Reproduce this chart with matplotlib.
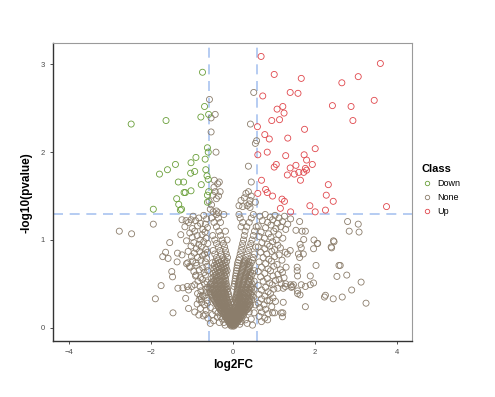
import matplotlib
matplotlib.use("Agg")
import matplotlib.pyplot as plt
from matplotlib.lines import Line2D
import numpy as np

plt.rcParams["font.family"] = ["Liberation Sans", "DejaVu Sans"]

# thresholds
FC_CUT = 0.585   # log2(1.5)
P_CUT = 1.301    # -log10(0.05)

# ── Up regulated (log2FC, -log10 p) ──
up_pts = [
    (0.69, 3.09), (3.60, 3.01), (1.01, 2.885), (1.67, 2.84), (3.06, 2.86),
    (2.66, 2.79), (0.73, 2.64), (1.40, 2.68), (1.59, 2.67), (3.45, 2.59),
    (2.43, 2.53), (2.885, 2.52), (1.08, 2.49), (1.22, 2.52), (1.25, 2.445),
    (0.95, 2.36), (1.14, 2.37), (2.93, 2.36), (0.60, 2.29), (1.75, 2.26),
    (0.78, 2.20), (0.89, 2.15), (1.34, 2.16), (2.01, 2.04), (0.61, 1.97),
    (0.84, 2.00), (1.29, 1.96), (1.74, 1.97), (1.80, 1.91), (1.94, 1.86),
    (1.01, 1.83), (1.06, 1.86), (1.40, 1.82), (1.54, 1.85), (1.77, 1.815),
    (1.80, 1.795), (1.73, 1.77), (1.61, 1.77), (1.50, 1.75), (1.33, 1.74),
    (1.65, 1.68), (0.70, 1.68), (2.33, 1.63), (0.80, 1.575), (0.84, 1.54),
    (0.97, 1.50), (0.61, 1.53), (2.28, 1.51), (1.20, 1.465), (1.26, 1.44),
    (2.45, 1.44), (1.88, 1.39), (1.16, 1.36), (3.75, 1.38), (1.41, 1.32),
    (2.01, 1.32), (2.26, 1.34),
]

# ── Down regulated ──
down_pts = [
    (-0.74, 2.91), (-2.48, 2.32), (-1.63, 2.36), (-0.69, 2.52), (-0.78, 2.40),
    (-0.59, 2.43), (-0.62, 2.05), (-0.60, 2.00), (-0.90, 1.94), (-1.02, 1.88),
    (-0.675, 1.92), (-1.40, 1.86), (-0.66, 1.80), (-1.595, 1.80), (-1.79, 1.75),
    (-0.93, 1.78), (-1.03, 1.76), (-1.33, 1.66), (-1.20, 1.66), (-0.77, 1.63),
    (-0.63, 1.73), (-0.60, 1.69), (-1.19, 1.54), (-1.16, 1.54), (-1.02, 1.56),
    (-0.59, 1.55), (-0.62, 1.51), (-1.37, 1.47), (-0.62, 1.43), (-1.32, 1.405),
    (-1.28, 1.34), (-1.25, 1.35), (-1.94, 1.35),
]

# ── Not significant: sparse outer points ──
none_outer = [
    (-2.77, 1.10), (-2.47, 1.07), (-1.94, 1.18), (-1.54, 0.97), (-1.64, 0.86),
    (-1.71, 0.81), (-1.58, 0.79), (-1.49, 0.64), (-1.47, 0.58), (-1.75, 0.48),
    (-1.89, 0.33), (-1.46, 0.17), (-1.35, 0.85), (-1.24, 0.83), (-1.36, 0.75),
    (-1.27, 1.06), (-1.34, 0.45), (-1.22, 0.455), (-1.11, 0.47), (-1.00, 0.47),
    (-1.08, 0.43), (-1.15, 0.335), (-0.90, 0.60), (-1.08, 0.22), (-0.93, 0.18),
    (-0.83, 0.145), (-0.72, 0.135), (-0.82, 0.32), (-0.76, 0.29), (-0.80, 0.36),
    (-0.70, 0.36), (-1.13, 0.73), (-1.10, 0.74), (-1.06, 0.70), (-1.24, 1.23),
    (-1.14, 1.22), (-1.02, 1.23),
    (2.80, 1.21), (3.06, 1.18), (2.84, 1.10), (3.08, 1.09), (2.455, 0.99),
    (2.40, 0.92), (1.98, 1.00), (2.07, 0.96), (1.97, 0.90), (1.73, 1.005),
    (1.64, 0.95), (1.67, 0.91), (1.72, 0.84), (1.60, 0.84), (1.63, 0.80),
    (2.03, 0.71), (2.62, 0.71), (2.59, 0.71), (2.54, 0.585), (2.78, 0.60),
    (3.13, 0.52), (2.90, 0.43), (3.25, 0.28), (2.67, 0.35), (2.45, 0.33),
    (2.235, 0.35), (2.26, 0.37), (1.77, 0.24), (1.89, 0.59), (1.97, 0.51),
    (1.89, 0.49), (1.77, 0.47), (1.67, 0.49), (1.58, 0.39), (1.64, 0.375),
    (1.58, 0.42), (1.57, 0.69), (1.57, 0.65), (1.58, 0.59), (1.41, 0.49),
    (1.45, 0.47), (1.29, 0.50), (1.40, 0.88), (1.33, 0.84), (1.28, 0.86),
    (1.69, 1.10), (1.77, 1.10), (1.63, 1.21), (1.54, 1.11), (0.85, 0.09),
    (1.21, 0.125), (1.22, 0.17), (1.18, 0.17), (0.97, 0.17), (1.02, 0.17),
    (1.04, 0.30), (0.90, 0.31), (1.23, 0.29), (1.43, 0.46), (1.48, 0.49),
    (1.23, 0.45), (1.28, 0.47), (2.41, 0.91), (2.47, 0.98), (2.06, 0.96),
]

# not significant but above the p cut (inside the FC lines)
none_upper = [
    (0.51, 2.68), (-0.57, 2.60), (-0.53, 2.39), (-0.43, 2.43), (-0.53, 2.23),
    (0.43, 2.32), (0.55, 2.10), (0.58, 2.13), (-0.41, 2.00), (0.38, 1.84),
    (-0.45, 1.68), (-0.37, 1.64), (-0.33, 1.66), (0.45, 1.66), (-0.31, 1.55),
    (-0.43, 1.55), (-0.40, 1.47), (-0.49, 1.51), (0.20, 1.45), (0.32, 1.53),
    (0.38, 1.55), (0.45, 1.50), (0.28, 1.48), (0.42, 1.45), (0.15, 1.39),
    (0.35, 1.39), (0.40, 1.41), (0.42, 1.37), (0.55, 1.43), (-0.55, 1.35),
    (-0.48, 1.32), (-0.40, 1.33), (-0.35, 1.31), (-0.52, 1.40), (-0.58, 1.44),
    (0.24, 1.38), (-0.35, 1.50), (-0.46, 1.60),
]

# band just left of the -FC line
none_left = [
    (-0.97, 1.27), (-0.83, 1.25), (-0.71, 1.28), (-0.64, 1.24),
    (-1.08, 1.20), (-0.91, 1.22), (-0.79, 1.19), (-0.67, 1.18),
    (-1.17, 1.15), (-0.99, 1.13), (-0.86, 1.16), (-0.73, 1.12), (-0.62, 1.14),
    (-1.05, 1.08), (-0.93, 1.10), (-0.75, 1.06), (-0.68, 1.09),
    (-0.99, 1.03), (-0.87, 1.05), (-0.80, 1.00), (-0.65, 1.02),
    (-1.13, 0.99), (-0.95, 0.97), (-0.83, 0.95), (-0.71, 0.98), (-0.61, 0.96),
    (-1.02, 0.93), (-0.89, 0.90), (-0.77, 0.92), (-0.66, 0.89),
    (-1.09, 0.87), (-0.94, 0.85), (-0.81, 0.87), (-0.69, 0.84), (-0.62, 0.86),
    (-1.01, 0.81), (-0.86, 0.80), (-0.74, 0.82), (-0.64, 0.79),
    (-0.98, 0.76), (-0.90, 0.74), (-0.78, 0.77), (-0.67, 0.75),
    (-1.04, 0.69), (-0.88, 0.71), (-0.73, 0.68), (-0.63, 0.70),
    (-0.95, 0.64), (-0.82, 0.66), (-0.70, 0.63), (-0.61, 0.65),
    (-0.91, 0.59), (-0.79, 0.57), (-0.67, 0.60),
    (-0.85, 0.53), (-0.74, 0.55), (-0.63, 0.52),
    (-0.93, 0.49), (-0.80, 0.47), (-0.69, 0.50), (-0.62, 0.46),
    (-0.78, 0.42), (-0.66, 0.44),
    (-0.86, 0.39), (-0.74, 0.37), (-0.65, 0.40),
    (-0.77, 0.33), (-0.63, 0.31),
    (-0.87, 0.27), (-0.69, 0.26), (-0.62, 0.28),
    (-0.79, 0.22), (-0.65, 0.20),
    (-0.67, 0.15), (-0.61, 0.11),
]

# band just right of the +FC line
none_right = [
    (0.66, 1.27), (0.79, 1.29), (0.91, 1.26), (1.03, 1.28), (1.13, 1.25), (1.26, 1.27), (1.41, 1.24),
    (0.72, 1.22), (0.85, 1.20), (0.97, 1.23), (1.09, 1.19), (1.21, 1.21), (1.34, 1.18),
    (0.62, 1.16), (0.80, 1.14), (0.93, 1.17), (1.05, 1.13), (1.17, 1.15), (1.29, 1.12),
    (0.69, 1.09), (0.87, 1.07), (1.00, 1.10), (1.12, 1.06),
    (0.64, 1.04), (0.77, 1.02), (0.93, 1.03), (1.06, 1.00), (1.22, 1.02),
    (0.71, 0.97), (0.84, 0.95), (0.97, 0.98), (1.10, 0.94),
    (0.62, 0.92), (0.78, 0.90), (0.90, 0.93), (1.02, 0.89), (1.16, 0.91),
    (0.68, 0.86), (0.83, 0.84), (0.95, 0.87), (1.13, 0.83),
    (0.74, 0.80), (0.88, 0.78), (1.02, 0.81), (1.20, 0.77),
    (0.64, 0.75), (0.80, 0.73), (0.94, 0.76), (1.08, 0.72),
    (0.70, 0.69), (0.86, 0.67), (1.00, 0.70), (1.16, 0.66), (1.30, 0.69),
    (0.62, 0.64), (0.78, 0.62), (0.92, 0.65), (1.10, 0.61), (1.21, 0.63),
    (0.68, 0.58), (0.84, 0.56), (0.98, 0.59), (1.13, 0.55), (1.25, 0.57),
    (0.74, 0.53), (0.90, 0.51), (1.04, 0.54), (1.18, 0.50),
    (0.62, 0.48), (0.80, 0.46), (0.96, 0.49), (1.10, 0.45),
    (0.70, 0.43), (0.86, 0.41), (1.00, 0.44),
    (0.64, 0.38), (0.78, 0.36), (0.92, 0.39),
    (0.70, 0.33), (0.84, 0.31), (0.98, 0.34),
    (0.62, 0.28), (0.76, 0.26),
    (0.66, 0.23), (0.80, 0.21), (0.95, 0.24),
    (0.70, 0.18), (0.86, 0.16),
    (0.64, 0.13), (0.78, 0.11),
    (0.70, 0.07),
]

# low p-significance points scattered around the V foot
none_low = [
    (-0.22, 0.06), (-0.19, 0.03), (0.17, 0.04), (0.20, 0.07), (-0.26, 0.10),
    (0.22, 0.11), (-0.30, 0.13), (0.26, 0.14), (-0.55, 0.05), (-0.47, 0.08),
    (-0.38, 0.12), (-0.50, 0.15), (-0.33, 0.06), (-0.42, 0.19), (-0.55, 0.23),
    (-0.36, 0.17), (0.35, 0.05), (0.45, 0.10), (0.31, 0.09), (0.52, 0.17),
    (0.40, 0.18), (0.55, 0.26), (0.48, 0.03), (0.36, 0.21),
]

# dense V core, read row by row: (-log10 p, [log2FC ...])
none_core_rows = [
    (0.02, [-0.04, 0.0, 0.03]),
    (0.035, [-0.06, -0.02, 0.02, 0.06]),
    (0.05, [-0.08, -0.04, 0.0, 0.04, 0.08]),
    (0.065, [-0.10, -0.06, -0.02, 0.02, 0.06, 0.11]),
    (0.08, [-0.12, -0.08, -0.04, 0.0, 0.05, 0.09, 0.13]),
    (0.095, [-0.14, -0.10, -0.05, -0.01, 0.04, 0.08, 0.12, 0.15]),
    (0.11, [-0.16, -0.11, -0.06, -0.02, 0.03, 0.07, 0.12, 0.16]),
    (0.125, [-0.18, -0.13, -0.08, -0.03, 0.02, 0.07, 0.13, 0.18]),
    (0.14, [-0.20, -0.15, -0.10, -0.05, 0.0, 0.05, 0.10, 0.15, 0.20]),
    (0.155, [-0.23, -0.17, -0.12, -0.07, -0.02, 0.03, 0.08, 0.13, 0.18, 0.24]),
    (0.17, [-0.25, -0.19, -0.13, -0.07, -0.02, 0.04, 0.10, 0.16, 0.22, 0.27]),
    (0.185, [-0.27, -0.21, -0.15, -0.09, -0.03, 0.05, 0.11, 0.17, 0.23, 0.29]),
    (0.20, [-0.30, -0.24, -0.17, -0.11, -0.05, 0.02, 0.08, 0.14, 0.20, 0.26, 0.32]),
    (0.215, [-0.32, -0.26, -0.19, -0.12, -0.06, 0.06, 0.11, 0.17, 0.23, 0.29, 0.35]),
    (0.23, [-0.34, -0.28, -0.21, -0.14, -0.08, 0.05, 0.12, 0.18, 0.25, 0.31, 0.38]),
    (0.245, [-0.36, -0.29, -0.22, -0.15, -0.09, 0.07, 0.13, 0.20, 0.27, 0.34, 0.40]),
    (0.26, [-0.38, -0.31, -0.24, -0.17, -0.10, 0.08, 0.15, 0.22, 0.29, 0.36, 0.43]),
    (0.275, [-0.40, -0.33, -0.25, -0.18, -0.11, 0.09, 0.16, 0.23, 0.31, 0.38]),
    (0.29, [-0.42, -0.35, -0.27, -0.19, -0.12, -0.05, 0.04, 0.10, 0.18, 0.26, 0.33, 0.41]),
    (0.305, [-0.44, -0.36, -0.28, -0.20, -0.13, 0.07, 0.14, 0.22, 0.30, 0.39]),
    (0.32, [-0.46, -0.38, -0.30, -0.22, -0.14, -0.07, 0.06, 0.13, 0.21, 0.29, 0.37, 0.46]),
    (0.335, [-0.48, -0.40, -0.31, -0.23, -0.15, 0.08, 0.16, 0.24, 0.33, 0.42]),
    (0.35, [-0.50, -0.41, -0.32, -0.24, -0.16, -0.09, 0.07, 0.15, 0.23, 0.31, 0.40, 0.50]),
    (0.365, [-0.51, -0.43, -0.34, -0.25, -0.17, 0.10, 0.18, 0.27, 0.36, 0.47]),
    (0.38, [-0.53, -0.44, -0.35, -0.26, -0.18, -0.10, 0.09, 0.17, 0.25, 0.34, 0.44]),
    (0.395, [-0.55, -0.45, -0.36, -0.27, -0.19, 0.11, 0.20, 0.29, 0.39]),
    (0.41, [-0.56, -0.46, -0.37, -0.28, -0.20, -0.12, 0.10, 0.19, 0.28, 0.37, 0.47]),
    (0.425, [-0.50, -0.42, -0.33, -0.24, -0.16, 0.12, 0.21, 0.31, 0.42]),
    (0.44, [-0.58, -0.48, -0.39, -0.30, -0.21, -0.13, 0.11, 0.20, 0.30, 0.40, 0.52]),
    (0.455, [-0.54, -0.44, -0.35, -0.26, -0.17, 0.13, 0.23, 0.34, 0.46]),
    (0.47, [-0.50, -0.41, -0.32, -0.23, -0.14, 0.03, 0.12, 0.22, 0.32, 0.43]),
    (0.485, [-0.46, -0.37, -0.28, -0.19, 0.14, 0.25, 0.37]),
    (0.50, [-0.55, -0.44, -0.34, -0.25, -0.16, 0.04, 0.13, 0.24, 0.35, 0.47]),
    (0.515, [-0.52, -0.41, -0.30, -0.21, 0.15, 0.27, 0.40]),
    (0.53, [-0.47, -0.36, -0.26, -0.17, 0.05, 0.15, 0.26, 0.38, 0.52]),
    (0.545, [-0.44, -0.33, -0.22, 0.16, 0.28, 0.44]),
    (0.56, [-0.52, -0.40, -0.28, -0.18, 0.06, 0.17, 0.29, 0.41]),
    (0.575, [-0.48, -0.36, -0.24, 0.17, 0.30, 0.37]),
    (0.59, [-0.44, -0.31, -0.20, 0.07, 0.18, 0.31, 0.45]),
    (0.605, [-0.40, -0.27, -0.16, 0.19, 0.32, 0.40]),
    (0.62, [-0.48, -0.34, -0.22, 0.08, 0.20, 0.33, 0.48]),
    (0.635, [-0.43, -0.30, -0.18, 0.21, 0.35, 0.43]),
    (0.65, [-0.37, -0.24, -0.14, 0.09, 0.22, 0.36, 0.53]),
    (0.665, [-0.46, -0.33, -0.20, 0.23, 0.37]),
    (0.68, [-0.41, -0.27, -0.16, 0.10, 0.24, 0.39]),
    (0.695, [-0.36, -0.22, 0.25, 0.40]),
    (0.71, [-0.45, -0.30, -0.17, 0.11, 0.26, 0.42]),
    (0.725, [-0.39, -0.24, 0.27, 0.36]),
    (0.74, [-0.50, -0.33, -0.19, 0.12, 0.28, 0.45]),
    (0.755, [-0.42, -0.27, -0.15, 0.29, 0.39]),
    (0.77, [-0.36, -0.21, 0.14, 0.30, 0.48]),
    (0.80, [-0.40, -0.24, -0.13, 0.16, 0.32, 0.50]),
    (0.84, [-0.44, -0.28, -0.16, 0.18, 0.35, 0.53]),
    (0.88, [-0.48, -0.31, -0.18, 0.20, 0.38]),
    (0.92, [-0.35, -0.20, 0.22, 0.41, 0.56]),
    (0.96, [-0.40, -0.23, 0.24, 0.44]),
    (1.00, [-0.44, -0.26, -0.14, 0.26, 0.47]),
    (1.05, [-0.49, -0.30, 0.28, 0.50]),
    (1.10, [-0.34, -0.18, 0.30, 0.53]),
    (1.15, [-0.40, 0.20, 0.34, 0.57]),
    (1.20, [-0.46, -0.30, 0.24, 0.40]),
    (1.25, [-0.52, -0.35, 0.18, 0.45]),
    (1.29, [-0.40, -0.22, 0.15, 0.50]),
]

CLASSES = ["Down", "None", "Up"]
COLORS = {"Down": "#6a9f3a", "None": "#8b7d6b", "Up": "#e0474c"}

none_core = [(x, y) for y, xs in none_core_rows for x in xs]
none_pts = none_outer + none_upper + none_left + none_right + none_low + none_core

groups = {"Down": np.array(down_pts), "None": np.array(none_pts),
          "Up": np.array(up_pts)}

fig = plt.figure(figsize=(4.95, 3.97), dpi=100)
ax = fig.add_axes([0.1077, 0.141, 0.7253, 0.750])

for cls in ["None", "Down", "Up"]:
    pts = groups[cls]
    ax.scatter(pts[:, 0], pts[:, 1], s=19, facecolors="none",
               edgecolors=COLORS[cls], linewidths=0.6, zorder=3)

# cut-off lines
line_kw = dict(color="#a9c4f0", lw=1.2, ls=(0, (6, 4)), zorder=2)
ax.axvline(-FC_CUT, **line_kw)
ax.axvline(FC_CUT, **line_kw)
ax.axhline(P_CUT, **line_kw)

ax.set_xlim(-4.38, 4.38)
ax.set_ylim(-0.151, 3.24)
ax.set_xticks([-4, -2, 0, 2, 4])
ax.set_yticks([0, 1, 2, 3])
ax.tick_params(labelsize=5.5, labelcolor="#4d4d4d", color="#333333",
               length=2.5, width=0.6)
for side in ["top", "right"]:
    ax.spines[side].set_color("#9a9a9a")
    ax.spines[side].set_linewidth(0.8)
for side in ["left", "bottom"]:
    ax.spines[side].set_color("#333333")
    ax.spines[side].set_linewidth(1.0)

ax.set_xlabel("log2FC", fontsize=8.5, fontweight="bold", labelpad=2)
ax.set_ylabel("-log10(pvalue)", fontsize=8.5, fontweight="bold", labelpad=6)

handles = [Line2D([], [], marker="o", ls="none", markersize=3.2,
                  markerfacecolor="none", markeredgecolor=COLORS[c],
                  markeredgewidth=0.6) for c in CLASSES]
leg = fig.legend(handles, CLASSES, title="Class", loc="upper left",
                 bbox_to_anchor=(413 / 495, 1 - 156 / 397), frameon=False,
                 fontsize=6.5, title_fontsize=8, handletextpad=0.6,
                 handlelength=1.2, labelspacing=0.55, alignment="left")
leg.get_title().set_fontweight("bold")

fig.savefig("out.png", dpi=100)
